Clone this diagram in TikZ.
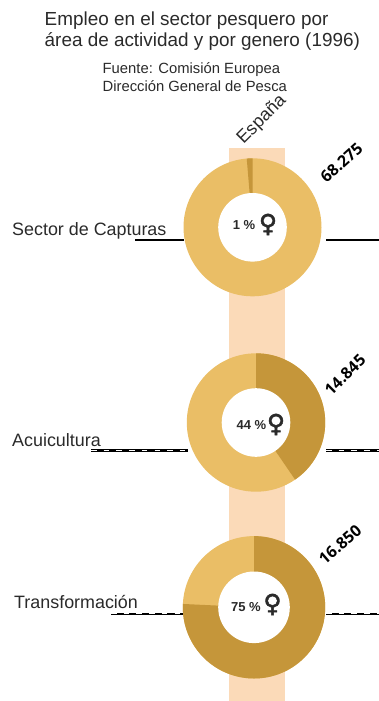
\documentclass[tikz,border=0pt]{standalone}
\usepackage{fontspec}
\setmainfont{Liberation Sans}
\newfontfamily\symfont[FakeBold=1.6]{DejaVu Sans}
\newfontfamily\valfont{Open Sans}
\definecolor{band}{HTML}{FBDAB8}
\definecolor{lightring}{HTML}{EABE66}
\definecolor{darkring}{HTML}{C5963A}
\definecolor{ink}{HTML}{2A2A2A}
\tikzset{
  titletext/.style={anchor=west,inner sep=0pt,text=ink,font=\fontsize{18.9}{18.9}\selectfont},
  srctext/.style={anchor=west,inner sep=0pt,text=ink,font=\fontsize{14.8}{14.8}\selectfont},
  cat/.style={anchor=base west,inner sep=0pt,text=ink,font=\fontsize{17.9}{17.9}\selectfont},
  val/.style={inner sep=0pt,text=black,font=\valfont\bfseries\fontsize{16}{16}\selectfont},
  pct/.style={inner sep=0pt,text=ink,font=\bfseries\fontsize{13}{13}\selectfont},
  venus/.style={inner sep=0pt,text=ink,font=\symfont\fontsize{25}{25}\selectfont},
  leaderthin/.style={line width=2.2pt,black},
  leaderthick/.style={line width=3pt,black},
  leaderdash/.style={line width=0.7pt,white,dash pattern=on 5.5pt off 7.2pt}
}
\newcommand{\ring}[6]{% cx cy R r startangle endangle (dark sector from start to end; y axis points down)
  \fill[lightring] (#1,#2) circle[radius=#3];
  \fill[darkring] (#1,#2) -- ++(#5:#3) arc[start angle=#5,end angle=#6,radius=#3] -- cycle;
  \fill[white] (#1,#2) circle[radius=#4];
}
\begin{document}
\begin{tikzpicture}[x=1pt,y=-1pt]
\useasboundingbox (0,0) rectangle (379,701);
\fill[band] (229,148) rectangle (285.3,701);

\coordinate (l1a) at (135,239.6); \coordinate (l1b) at (184,239.6);
\coordinate (r1a) at (326,239.6); \coordinate (r1b) at (379,239.6);
\coordinate (l2a) at (91,450.3);  \coordinate (l2b) at (188,450.3);
\coordinate (r2a) at (326,450.3); \coordinate (r2b) at (379,450.3);
\coordinate (l3a) at (111,613.7); \coordinate (l3b) at (183,613.7);
\coordinate (r3a) at (326,613.7); \coordinate (r3b) at (379,613.7);

\foreach \a/\b in {l1a/l1b,r1a/r1b,l3a/l3b,r3a/r3b}{
  \draw[leaderthin] (\a) -- (\b);
  \draw[leaderdash] ([yshift=0.8pt]\a) -- ([yshift=0.8pt]\b);
}
\foreach \a/\b in {l2a/l2b,r2a/r2b}{
  \draw[leaderthick] (\a) -- (\b);
  \draw[leaderdash] ([yshift=0.4pt]\a) -- ([yshift=0.4pt]\b);
}

\ring{252.5}{227.3}{69}{34.3}{-94.8}{-90}
\ring{256}{422.5}{69.2}{34.3}{-90}{55.6}
\ring{254}{607.3}{71.2}{35.8}{-90}{182.7}

\node[titletext] (t1) at (44.5,21) {Empleo en el sector pesquero por};
\node[titletext] (t2) at (44.5,42) {área de actividad y por genero (1996)};
\node[srctext] (s1) at (102.5,70) {Fuente: Comisión Europea};
\node[srctext] (s2) at (102.5,86) {Dirección General de Pesca};
\node[rotate=45,inner sep=0pt,text=ink,font=\fontsize{18}{18}\selectfont] (es) at (262,120) {España};

\node[cat] (c1) at (12,235) {Sector de Capturas};
\node[cat] (c2) at (12,446) {Acuicultura};
\node[cat] (c3) at (14,608) {Transformación};

\node[val,rotate=42] (v1) at (341.5,162.5) {68.275};
\node[val,rotate=45] (v2) at (345,375) {14.845};
\node[val,rotate=41] (v3) at (340,544.5) {16.850};

\node[pct] (p1) at (244,225.5) {1 \%};
\node[venus] (g1) at (268,224.5) {♀};
\node[pct] (p2) at (251.5,425.5) {44 \%};
\node[venus] (g2) at (276,424.5) {♀};
\node[pct] (p3) at (246,607.5) {75 \%};
\node[venus] (g3) at (272.5,604.5) {♀};
\end{tikzpicture}
\end{document}
